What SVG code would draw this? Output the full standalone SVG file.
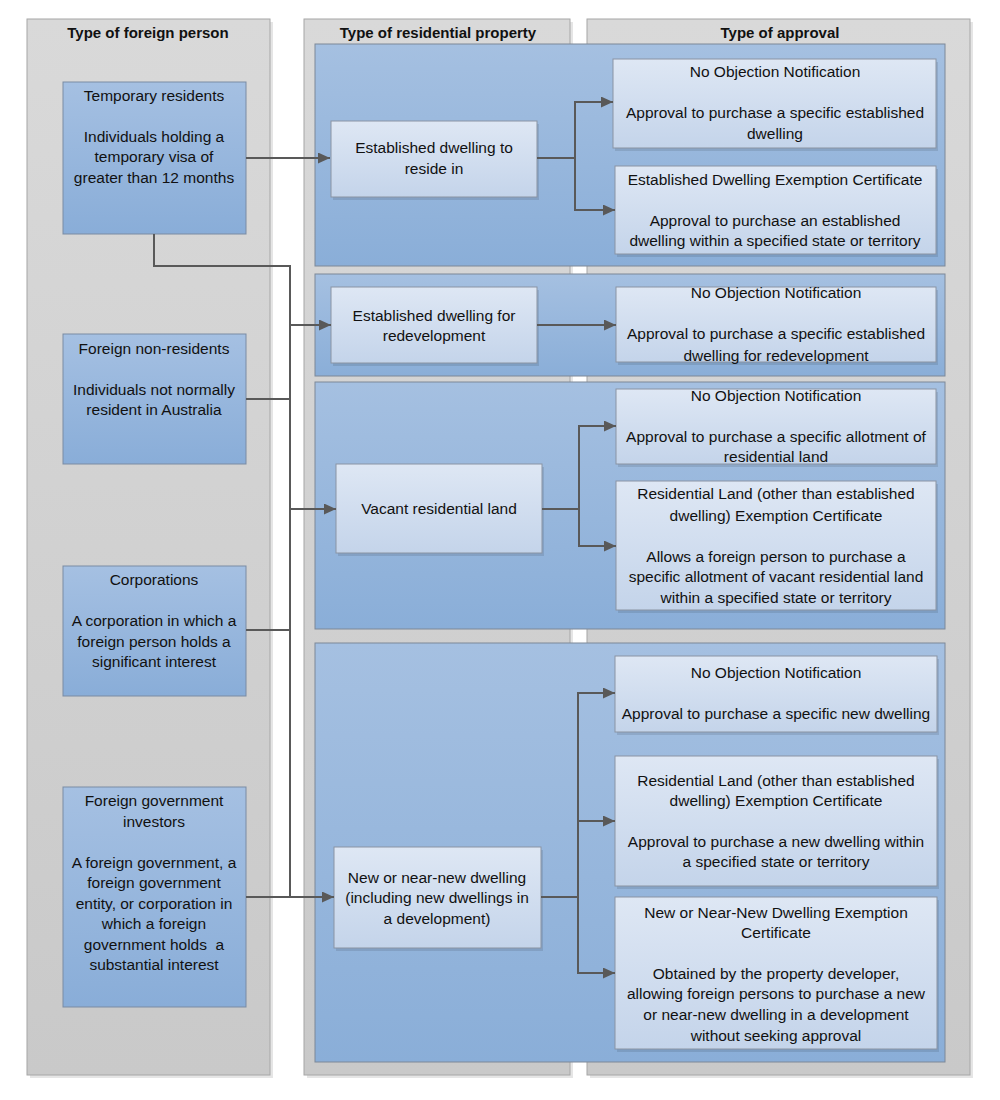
<svg xmlns="http://www.w3.org/2000/svg" width="1000" height="1100" viewBox="0 0 1000 1100">
<defs>
<linearGradient id="gLane" x1="0" y1="0" x2="0" y2="1"><stop offset="0" stop-color="#d9d9d9"/><stop offset="1" stop-color="#c9c9c9"/></linearGradient>
<linearGradient id="gBand" x1="0" y1="0" x2="0" y2="1"><stop offset="0" stop-color="#a5c0e1"/><stop offset="1" stop-color="#8aaed8"/></linearGradient>
<linearGradient id="gLeft" x1="0" y1="0" x2="0" y2="1"><stop offset="0" stop-color="#a5c0e2"/><stop offset="1" stop-color="#89add8"/></linearGradient>
<linearGradient id="gBox" x1="0" y1="0" x2="0" y2="1"><stop offset="0" stop-color="#dee7f4"/><stop offset="1" stop-color="#c4d4ea"/></linearGradient>
<marker id="arr" markerUnits="userSpaceOnUse" markerWidth="12" markerHeight="11" refX="12" refY="5.5" orient="auto"><path d="M0,0 L12,5.5 L0,11 z" fill="#595959"/></marker>
</defs>
<style>
.lane{fill:url(#gLane);stroke:#a6a6a6;stroke-width:1}
.shadow{fill:#000;fill-opacity:0.1}
.band{fill:url(#gBand);stroke:#7d8898;stroke-width:1}
.lbox{fill:url(#gLeft);stroke:#7a8ba3;stroke-width:1}
.box{fill:url(#gBox);stroke:#8a94a3;stroke-width:1}
text{font-family:"Liberation Sans",Arial,sans-serif;font-size:15.5px;fill:#111;text-anchor:middle}
.hdr{font-weight:bold;font-size:15px}
.conn{fill:none;stroke:#595959;stroke-width:2}
</style>
<rect width="1000" height="1100" fill="#fff"/>

<g id="lanes">
<rect class="shadow" x="30" y="22" width="243" height="1056"/>
<rect class="lane" x="27" y="19" width="243" height="1056"/>
<rect class="shadow" x="307" y="22" width="266" height="1056"/>
<rect class="lane" x="304" y="19" width="266" height="1056"/>
<rect class="shadow" x="590" y="22" width="383" height="1056"/>
<rect class="lane" x="587" y="19" width="383" height="1056"/>
<text class="hdr" x="148" y="38">Type of foreign person</text>
<text class="hdr" x="438" y="38">Type of residential property</text>
<text class="hdr" x="780" y="38">Type of approval</text>
</g>

<g id="bands">
<rect class="band" x="315" y="44" width="630" height="222"/>
<rect class="band" x="315" y="274" width="630" height="102"/>
<rect class="band" x="315" y="382" width="630" height="247"/>
<rect class="band" x="315" y="643" width="630" height="419"/>
</g>

<g id="temporary-residents">
<rect class="lbox" x="63" y="82" width="183" height="152"/>
<text><tspan x="154" y="101">Temporary residents</tspan><tspan x="154" y="142">Individuals holding a</tspan><tspan x="154" y="162">temporary visa of</tspan><tspan x="154" y="183">greater than 12 months</tspan></text>
</g>
<g id="foreign-non-residents">
<rect class="lbox" x="63" y="334" width="183" height="130"/>
<text><tspan x="154" y="354">Foreign non-residents</tspan><tspan x="154" y="395">Individuals not normally</tspan><tspan x="154" y="415">resident in Australia</tspan></text>
</g>
<g id="corporations">
<rect class="lbox" x="63" y="566" width="183" height="130"/>
<text><tspan x="154" y="585">Corporations</tspan><tspan x="154" y="626">A corporation in which a</tspan><tspan x="154" y="647">foreign person holds a</tspan><tspan x="154" y="667">significant interest</tspan></text>
</g>
<g id="foreign-government-investors">
<rect class="lbox" x="63" y="787" width="183" height="220"/>
<text xml:space="preserve"><tspan x="154" y="806">Foreign government</tspan><tspan x="154" y="827">investors</tspan><tspan x="154" y="868">A foreign government, a</tspan><tspan x="154" y="888">foreign government</tspan><tspan x="154" y="909">entity, or corporation in</tspan><tspan x="154" y="929">which a foreign</tspan><tspan x="154" y="950">government holds  a</tspan><tspan x="154" y="970">substantial interest</tspan></text>
</g>

<g id="established-reside">
<rect class="shadow" x="333" y="124" width="206" height="76"/>
<rect class="box" x="331" y="121" width="206" height="76"/>
<text><tspan x="434" y="153">Established dwelling to</tspan><tspan x="434" y="174">reside in</tspan></text>
</g>
<g id="established-redevelopment">
<rect class="shadow" x="333" y="290" width="206" height="76"/>
<rect class="box" x="331" y="287" width="206" height="76"/>
<text><tspan x="434" y="321">Established dwelling for</tspan><tspan x="434" y="341">redevelopment</tspan></text>
</g>
<g id="vacant-land">
<rect class="shadow" x="338" y="467" width="206" height="89"/>
<rect class="box" x="336" y="464" width="206" height="89"/>
<text><tspan x="439" y="514">Vacant residential land</tspan></text>
</g>
<g id="new-dwelling">
<rect class="shadow" x="336" y="850" width="207" height="101"/>
<rect class="box" x="334" y="847" width="207" height="101"/>
<text><tspan x="437" y="883">New or near-new dwelling</tspan><tspan x="437" y="903">(including new dwellings in</tspan><tspan x="437" y="924">a development)</tspan></text>
</g>

<g id="b1-non">
<rect class="shadow" x="615" y="62" width="323" height="89"/>
<rect class="box" x="613" y="59" width="323" height="89"/>
<text><tspan x="775" y="77">No Objection Notification</tspan><tspan x="775" y="118">Approval to purchase a specific established</tspan><tspan x="775" y="139">dwelling</tspan></text>
</g>
<g id="b1-edec">
<rect class="shadow" x="617" y="169" width="321" height="88"/>
<rect class="box" x="615" y="166" width="321" height="88"/>
<text><tspan x="775" y="185">Established Dwelling Exemption Certificate</tspan><tspan x="775" y="226">Approval to purchase an established</tspan><tspan x="775" y="246">dwelling within a specified state or territory</tspan></text>
</g>
<g id="b2-non">
<rect class="shadow" x="618" y="290" width="320" height="75"/>
<rect class="box" x="616" y="287" width="320" height="75"/>
<text><tspan x="776" y="298">No Objection Notification</tspan><tspan x="776" y="339">Approval to purchase a specific established</tspan><tspan x="776" y="361">dwelling for redevelopment</tspan></text>
</g>
<g id="b3-non">
<rect class="shadow" x="618" y="392" width="320" height="75"/>
<rect class="box" x="616" y="389" width="320" height="75"/>
<text><tspan x="776" y="401">No Objection Notification</tspan><tspan x="776" y="442">Approval to purchase a specific allotment of</tspan><tspan x="776" y="462">residential land</tspan></text>
</g>
<g id="b3-rl">
<rect class="shadow" x="618" y="484" width="320" height="129"/>
<rect class="box" x="616" y="481" width="320" height="129"/>
<text><tspan x="776" y="499">Residential Land (other than established</tspan><tspan x="776" y="521">dwelling) Exemption Certificate</tspan><tspan x="776" y="562">Allows a foreign person to purchase a</tspan><tspan x="776" y="582">specific allotment of vacant residential land</tspan><tspan x="776" y="603">within a specified state or territory</tspan></text>
</g>
<g id="b4-non">
<rect class="shadow" x="617" y="659" width="322" height="76"/>
<rect class="box" x="615" y="656" width="322" height="76"/>
<text><tspan x="776" y="678">No Objection Notification</tspan><tspan x="776" y="719">Approval to purchase a specific new dwelling</tspan></text>
</g>
<g id="b4-rl">
<rect class="shadow" x="617" y="759" width="322" height="130"/>
<rect class="box" x="615" y="756" width="322" height="130"/>
<text><tspan x="776" y="786">Residential Land (other than established</tspan><tspan x="776" y="806">dwelling) Exemption Certificate</tspan><tspan x="776" y="847">Approval to purchase a new dwelling within</tspan><tspan x="776" y="867">a specified state or territory</tspan></text>
</g>
<g id="b4-nnn">
<rect class="shadow" x="617" y="900" width="322" height="152"/>
<rect class="box" x="615" y="897" width="322" height="152"/>
<text><tspan x="776" y="918">New or Near-New Dwelling Exemption</tspan><tspan x="776" y="938">Certificate</tspan><tspan x="776" y="979">Obtained by the property developer,</tspan><tspan x="776" y="999">allowing foreign persons to purchase a new</tspan><tspan x="776" y="1020">or near-new dwelling in a development</tspan><tspan x="776" y="1041">without seeking approval</tspan></text>
</g>

<g id="connectors">
<path class="conn" d="M246,158 H330" marker-end="url(#arr)"/>
<path class="conn" d="M154,234 V266 H290 V897"/>
<path class="conn" d="M290,325 H331" marker-end="url(#arr)"/>
<path class="conn" d="M246,399 H290"/>
<path class="conn" d="M290,509 H336" marker-end="url(#arr)"/>
<path class="conn" d="M246,630 H290"/>
<path class="conn" d="M246,897 H334" marker-end="url(#arr)"/>
<path class="conn" d="M537,158 H575"/>
<path class="conn" d="M575,210 V102 H613" marker-end="url(#arr)"/>
<path class="conn" d="M575,158 V210 H615" marker-end="url(#arr)"/>
<path class="conn" d="M537,325 H616" marker-end="url(#arr)"/>
<path class="conn" d="M542,509 H579"/>
<path class="conn" d="M579,509 V426 H616" marker-end="url(#arr)"/>
<path class="conn" d="M579,509 V546 H616" marker-end="url(#arr)"/>
<path class="conn" d="M541,897 H578"/>
<path class="conn" d="M578,897 V693 H615" marker-end="url(#arr)"/>
<path class="conn" d="M578,821 H615" marker-end="url(#arr)"/>
<path class="conn" d="M578,897 V973 H615" marker-end="url(#arr)"/>
</g>
</svg>
